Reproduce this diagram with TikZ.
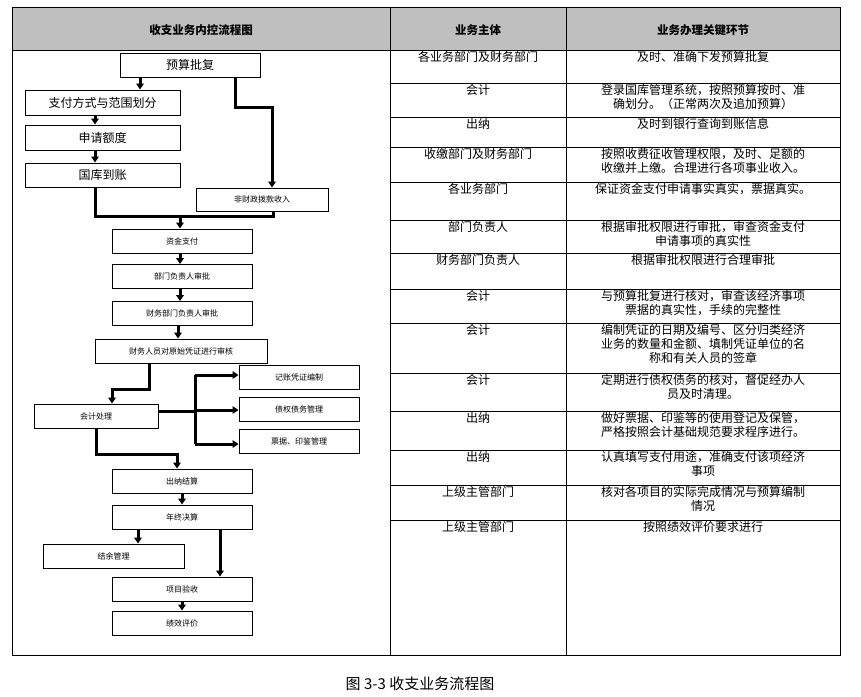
\documentclass[tikz,border=0pt]{standalone}
\usepackage{fontspec}
\setmainfont{Liberation Serif}
\newfontfamily\cjk{Noto Sans CJK SC}
\usetikzlibrary{positioning,arrows.meta}

\begin{document}
\begin{tikzpicture}[
        x=1pt, y=-1pt,
        fbox/.style={rectangle, draw, line width=0.9pt, minimum width=140pt, minimum height=24pt, inner sep=0pt, font=\cjk\fontsize{8}{9}\selectfont},
        bigbox/.style={fbox, font=\cjk\fontsize{12}{13}\selectfont},
        cell/.style={anchor=north, align=center, inner sep=1pt, font=\cjk\fontsize{12}{14}\selectfont},
        head/.style={font=\cjk\bfseries\fontsize{11.5}{13}\selectfont},
        arrow/.style={-{Triangle[length=6pt,width=7.5pt]}, line width=3pt},
        link/.style={line width=3pt}
    ]
        \useasboundingbox (0,0) rectangle (861,696);

        % table frame
        \fill[gray!50] (12,7) rectangle (840,50);
        \draw[line width=1pt] (12,7) rectangle (840,655);
        \draw[line width=1pt] (390,7) -- (390,655) (566,7) -- (566,655) (12,50) -- (840,50);
        \foreach \y in {83,117,147,182,220,253,289,323,373,411,450,485,520}
            \draw[line width=0.8pt] (390,\y) -- (840,\y);

        \node[head] (hflow) at (201,30) {收支业务内控流程图};
        \node[head] (hwho) at (478,30) {业务主体};
        \node[head] (hkey) at (703,30) {业务办理关键环节};

        % table rows
        \foreach \y/\who/\what in {
            50/各业务部门及财务部门/及时、准确下发预算批复,
            83/会计/{登录国库管理系统，按照预算按时、准\\确划分。（正常两次及追加预算）},
            117/出纳/及时到银行查询到账信息,
            147/收缴部门及财务部门/{按照收费征收管理权限，及时、足额的\\收缴并上缴。合理进行各项事业收入。},
            182/各业务部门/保证资金支付申请事实真实，票据真实。,
            220/部门负责人/{根据审批权限进行审批，审查资金支付\\申请事项的真实性},
            253/财务部门负责人/根据审批权限进行合理审批,
            289/会计/{与预算批复进行核对，审查该经济事项\\票据的真实性，手续的完整性},
            323/会计/{编制凭证的日期及编号、区分归类经济\\业务的数量和金额、填制凭证单位的名\\称和有关人员的签章},
            373/会计/{定期进行债权债务的核对，督促经办人\\员及时清理。},
            411/出纳/{做好票据、印鉴等的使用登记及保管，\\严格按照会计基础规范要求程序进行。},
            450/出纳/{认真填写支付用途，准确支付该项经济\\事项},
            485/上级主管部门/{核对各项目的实际完成情况与预算编制\\情况},
            520/上级主管部门/按照绩效评价要求进行}
        {
            \node[cell] at (478,\y) {\who};
            \node[cell] at (703,\y) {\what};
        }

        % flow boxes
        \node[bigbox] (ysp) at (190,65) {预算批复};
        \node[bigbox, minimum width=155pt, minimum height=25pt] (zff) at (102.5,102.5) {支付方式与范围划分};
        \node[bigbox, minimum width=155pt, minimum height=25pt] (sqe) at (102.5,137.5) {申请额度};
        \node[bigbox, minimum width=155pt] (gkd) at (102.5,175) {国库到账};
        \node[fbox, minimum width=132pt, minimum height=23pt] (fcz) at (262,199.5) {非财政拨款收入};
        \node[fbox] (zjz) at (182,241) {资金支付};
        \node[fbox] (bmsp) at (182,276.5) {部门负责人审批};
        \node[fbox] (cwsp) at (182,313.5) {财务部门负责人审批};
        \node[fbox, minimum width=172pt] (sh) at (181,351) {财务人员对原始凭证进行审核};
        \node[fbox, minimum width=124pt] (kjcl) at (96,416) {会计处理};
        \node[fbox, minimum width=120pt] (jzpz) at (299,377.5) {记账凭证编制};
        \node[fbox, minimum width=120pt] (zqzw) at (299,409) {债权债务管理};
        \node[fbox, minimum width=120pt] (pjyj) at (299,441) {票据、印鉴管理};
        \node[fbox] (cnjs) at (182,481) {出纳结算};
        \node[fbox] (nzjs) at (182,517) {年终决算};
        \node[fbox, minimum width=141pt] (jygl) at (113.5,556) {结余管理};
        \node[fbox] (xmys) at (182,589) {项目验收};
        \node[fbox] (jxpj) at (182,623) {绩效评价};

        % connectors
        \draw[arrow] (ysp.south -| 140,0) -- (zff.north -| 140,0);
        \draw[arrow] (ysp.south -| 235,0) -- (235,107) -- (272,107) -- (fcz.north -| 272,0);
        \draw[arrow] (zff.south -| 95,0) -- (sqe.north -| 95,0);
        \draw[arrow] (sqe.south -| 95,0) -- (gkd.north -| 95,0);
        \draw[link] (gkd.south -| 95,0) -- (95,216) -- (273,216) -- (fcz.south -| 273,0);
        \draw[arrow] (180,216) -- (zjz.north -| 180,0);
        \draw[arrow] (zjz.south -| 180,0) -- (bmsp.north -| 180,0);
        \draw[arrow] (bmsp.south -| 180,0) -- (cwsp.north -| 180,0);
        \draw[arrow] (cwsp.south -| 178,0) -- (sh.north -| 178,0);
        \draw[arrow] (sh.south -| 149,0) -- (149,389) -- (112,389) -- (kjcl.north -| 112,0);
        \draw[link] (kjcl.east |- 0,411) -- (195,411);
        \draw[link] (195,375) -- (195,444);
        \draw[arrow] (195,375) -- (jzpz.west |- 0,375);
        \draw[arrow] (195,410) -- (zqzw.west |- 0,410);
        \draw[arrow] (195,444) -- (pjyj.west |- 0,444);
        \draw[arrow] (kjcl.south -| 96,0) -- (96,454) -- (177,454) -- (cnjs.north -| 177,0);
        \draw[arrow] (cnjs.south -| 182,0) -- (nzjs.north -| 182,0);
        \draw[arrow] (nzjs.south -| 138,0) -- (jygl.north -| 138,0);
        \draw[arrow] (nzjs.south -| 220,0) -- (xmys.north -| 220,0);
        \draw[arrow] (xmys.south -| 182,0) -- (jxpj.north -| 182,0);

        \node[font=\cjk\fontsize{15}{17}\selectfont] (cap) at (420,684) {图 3-3 收支业务流程图};
    \end{tikzpicture}
\end{document}
